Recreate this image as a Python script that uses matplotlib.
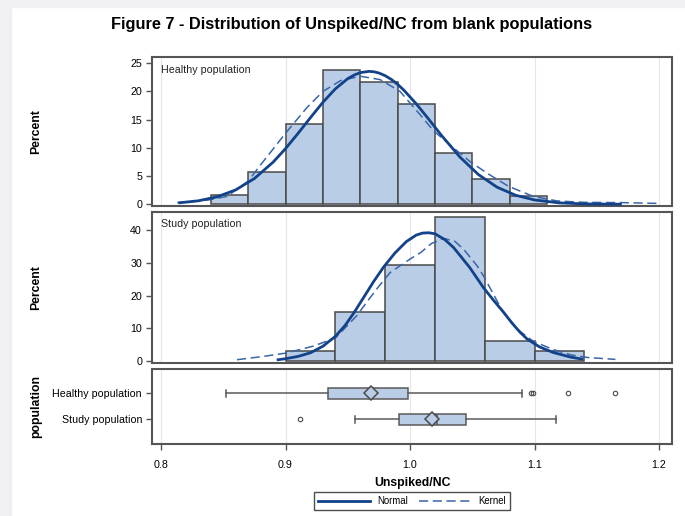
import numpy as np
import matplotlib.pyplot as plt
from matplotlib.patches import Rectangle
from matplotlib.lines import Line2D

plt.rcParams['font.family'] = ['Liberation Sans', 'DejaVu Sans']

# histogram bins (edges) and percent per bin
healthy_bins = [0.84, 0.87, 0.90, 0.93, 0.96, 0.99, 1.02, 1.05, 1.08, 1.11]
healthy_pct = [1.6, 5.7, 14.2, 23.8, 21.7, 17.8, 9.1, 4.4, 1.4]
study_bins = [0.90, 0.94, 0.98, 1.02, 1.06, 1.10, 1.14]
study_pct = [3.0, 14.9, 29.3, 43.8, 6.1, 3.0]

# fitted curves
healthy_normal_x = [0.815, 0.830, 0.845, 0.860, 0.875, 0.890, 0.900, 0.910, 0.920, 0.930,
                    0.940, 0.950, 0.955, 0.960, 0.967, 0.971, 0.975, 0.980, 0.985, 0.990,
                    0.995, 1.005, 1.015, 1.025, 1.040, 1.055, 1.070, 1.085, 1.100, 1.120,
                    1.140, 1.169]
healthy_normal_y = [0.27, 0.62, 1.32, 2.56, 4.57, 7.47, 9.87, 12.56, 15.36, 18.08,
                    20.46, 22.28, 22.9, 23.34, 23.56, 23.49, 23.27, 22.8, 22.13, 21.27,
                    20.24, 17.81, 15.08, 12.28, 8.39, 5.26, 3.02, 1.59, 0.77, 0.25,
                    0.07, 0.01]
healthy_kernel_x = [0.813, 0.826, 0.839, 0.853, 0.870, 0.880, 0.890, 0.900, 0.917, 0.930,
                    0.944, 0.960, 0.976, 0.992, 1.008, 1.019, 1.035, 1.048, 1.062, 1.079,
                    1.099, 1.118, 1.139, 1.169, 1.201]
healthy_kernel_y = [0.3, 0.5, 0.8, 1.4, 4.1, 7.0, 9.8, 12.6, 17.1, 20.0,
                    21.9, 22.7, 22.1, 20.0, 15.9, 13.0, 10.0, 7.6, 5.5, 3.2,
                    1.4, 0.6, 0.35, 0.3, 0.15]
study_normal_x = [0.894, 0.900, 0.910, 0.920, 0.930, 0.940, 0.948, 0.955, 0.963, 0.971,
                  0.979, 0.988, 0.997, 1.005, 1.010, 1.015, 1.020, 1.028, 1.035, 1.041,
                  1.048, 1.059, 1.067, 1.075, 1.082, 1.088, 1.094, 1.104, 1.115, 1.129, 1.138]
study_normal_y = [0.5, 0.8, 1.5, 2.6, 4.6, 7.6, 11.0, 14.8, 19.6, 24.4,
                  28.8, 33.0, 36.4, 38.4, 39.0, 39.1, 38.8, 37.0, 34.6, 31.8,
                  28.5, 22.4, 18.6, 15.0, 11.6, 9.0, 6.8, 4.4, 2.7, 1.3, 0.7]
study_kernel_x = [0.861, 0.882, 0.900, 0.922, 0.940, 0.957, 0.973, 0.984, 1.000, 1.009,
                  1.017, 1.027, 1.036, 1.043, 1.054, 1.059, 1.075, 1.088, 1.099, 1.115,
                  1.129, 1.142, 1.165]
study_kernel_y = [0.5, 1.5, 2.5, 4.6, 7.1, 13.8, 21.9, 27.0, 31.1, 33.2,
                  35.8, 37.4, 36.5, 34.1, 29.0, 26.0, 14.8, 9.2, 6.1, 3.6,
                  2.0, 1.2, 0.6]

# box plot summary
populations = ["Healthy population", "Study population"]
box_low = [0.852, 0.956]
box_q1 = [0.934, 0.991]
box_med = [0.969, 1.022]
box_q3 = [0.998, 1.045]
box_high = [1.090, 1.117]
box_mean = [0.969, 1.018]
box_outliers = [[1.097, 1.099, 1.127, 1.165], [0.9115]]

fill = '#B9CDE6'
edge = '#4a4a4a'
frame = '#555555'
normal_c = '#12428A'
kernel_c = '#3A66A8'
grid_c = '#E6E6E6'

fig = plt.figure(figsize=(6.85, 5.16), dpi=100)
fig.patches.append(Rectangle((0, 0), 11 / 685, 1, transform=fig.transFigure,
                             color='#F0F0F3', zorder=-5))
fig.patches.append(Rectangle((0, 1 - 7 / 516), 1, 7 / 516, transform=fig.transFigure,
                             color='#F0F0F3', zorder=-5))

left, width = 0.2215, 0.760
ax1 = fig.add_axes([left, 0.6008, width, 0.2882])
ax2 = fig.add_axes([left, 0.2965, width, 0.2932])
ax3 = fig.add_axes([left, 0.1390, width, 0.1465])

fs = 7.7
xticks = [0.8, 0.9, 1.0, 1.1, 1.2]

for ax in (ax1, ax2, ax3):
    ax.set_xlim(0.7925, 1.2107)
    ax.set_xticks(xticks)
    ax.grid(axis='x', color=grid_c, lw=0.8)
    ax.set_axisbelow(True)
    for s in ax.spines.values():
        s.set_color(frame)
        s.set_linewidth(1.5)
    ax.tick_params(axis='y', labelsize=fs, length=4.5, width=1.0, color=frame, pad=2.5)

for ax in (ax1, ax2):
    ax.tick_params(axis='x', bottom=False, labelbottom=False)

hist_sets = [
    (ax1, healthy_bins, healthy_pct, healthy_normal_x, healthy_normal_y,
     healthy_kernel_x, healthy_kernel_y, "Healthy population", (-0.3, 26.06), [0, 5, 10, 15, 20, 25]),
    (ax2, study_bins, study_pct, study_normal_x, study_normal_y,
     study_kernel_x, study_kernel_y, "Study population", (-0.5, 45.5), [0, 10, 20, 30, 40]),
]
for ax, bins, pct, nx, ny, kx, ky, label, ylim, yt in hist_sets:
    ax.bar(bins[:-1], pct, width=np.diff(bins), align='edge', color=fill,
           edgecolor=edge, linewidth=1.1, zorder=2)
    ax.plot(kx, ky, color=kernel_c, lw=1.1, ls=(0, (6, 3)), zorder=3)
    ax.plot(nx, ny, color=normal_c, lw=2.0, zorder=4, solid_joinstyle='round')
    ax.set_ylim(*ylim)
    ax.set_yticks(yt)
    ax.set_ylabel("Percent", fontsize=8.8, fontweight='bold')
    ax.annotate(label, xy=(0, 1), xycoords='axes fraction', xytext=(6.7, -9.1),
                textcoords='offset points', fontsize=fs, va='center', ha='left', color='#222222')

stats = []
for i, name in enumerate(populations):
    stats.append({'label': name, 'whislo': box_low[i], 'q1': box_q1[i], 'med': box_med[i],
                  'q3': box_q3[i], 'whishi': box_high[i], 'mean': box_mean[i],
                  'fliers': box_outliers[i]})
ax3.bxp(stats, positions=[0, 1], orientation='horizontal', widths=0.4, capwidths=0.27,
        patch_artist=True, showmeans=True,
        boxprops=dict(facecolor=fill, edgecolor='#5a5a5a', lw=1.1),
        whiskerprops=dict(color='#5a5a5a', lw=1.1),
        capprops=dict(color='#5a5a5a', lw=1.1),
        medianprops=dict(color='#5a5a5a', lw=1.1),
        meanprops=dict(marker='D', markersize=7.5, markerfacecolor=fill,
                       markeredgecolor='#4a4a4a', markeredgewidth=1.1),
        flierprops=dict(marker='o', markersize=3.2, markerfacecolor='none',
                        markeredgecolor='#4a4a4a', markeredgewidth=0.8))
ax3.set_ylim(1.96, -0.95)
ax3.set_yticks([0, 1])
ax3.set_yticklabels(populations)
ax3.set_ylabel("population", fontsize=8.8, fontweight='bold')
ax3.set_xticklabels(["0.8", "0.9", "1.0", "1.1", "1.2"])
ax3.tick_params(axis='x', labelsize=fs, length=4.5, width=1.0, color=frame, pad=7)
ax3.set_xlabel("Unspiked/NC", fontsize=8.8, fontweight='bold')
ax3.xaxis.set_label_coords(0.5, -0.512)
ax3.xaxis.label.set_va('center')

for ax in (ax1, ax2, ax3):
    ax.yaxis.set_label_coords(-0.222, 0.5)
    ax.yaxis.label.set_va('center')

fig.text(0.513, 1 - 28.5 / 516, "Figure 7 - Distribution of Unspiked/NC from blank populations",
         ha='center', va='baseline', fontsize=11.8, fontweight='bold')

handles = [Line2D([], [], color=normal_c, lw=2.0),
           Line2D([], [], color=kernel_c, lw=1.1, ls=(0, (6, 3)))]
leg = fig.legend(handles, ["Normal", "Kernel"], loc='center', ncol=2,
                 bbox_to_anchor=(412 / 685, 1 - 501 / 516), fontsize=6.9,
                 handlelength=5.4, handletextpad=0.8, columnspacing=1.15,
                 borderpad=0.45, fancybox=False, frameon=True)
leg.get_frame().set_edgecolor('#222222')
leg.get_frame().set_linewidth(1.0)

fig.savefig("out.png", dpi=100)
